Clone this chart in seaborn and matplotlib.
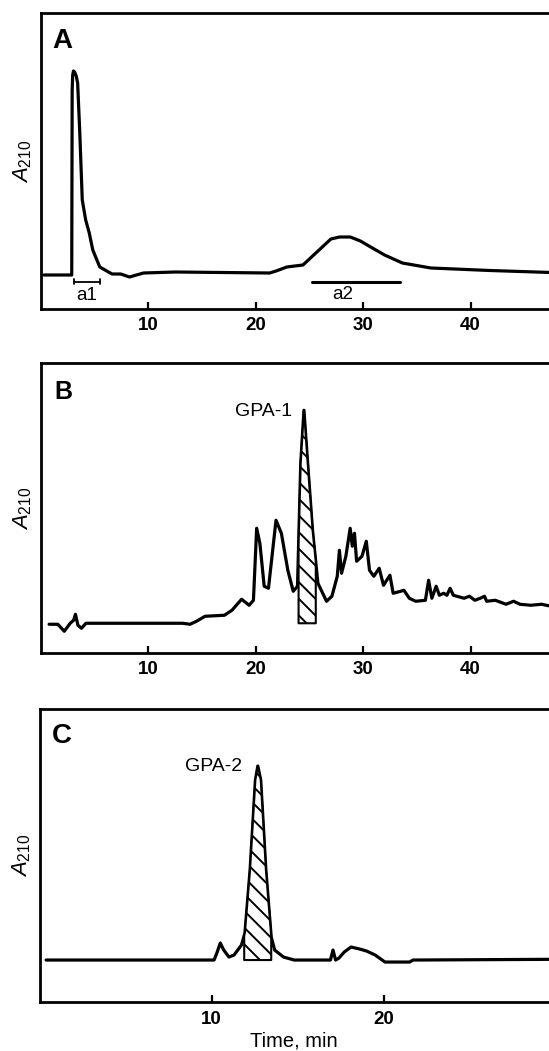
import numpy as np
import pandas as pd
import seaborn as sns
import matplotlib.pyplot as plt

# chromatogram A (time in min, absorbance in arbitrary units)
time_a = [0.3, 2.88, 2.92, 2.97, 3.04, 3.15, 3.3, 3.43, 3.63, 3.86, 4.18, 4.51, 4.84, 5.49,
          6.63, 7.44, 8.25, 9.56, 12.5, 21.3, 21.9, 22.9, 24.4, 25.2, 26.2, 27.0,
          27.8, 28.8, 29.75, 30.7, 32.0, 33.65, 36.3, 41.8, 47.5]
abs_a = [0, 0, 185, 200, 204, 203, 199, 192, 142, 75, 55, 42, 25, 8,
         1, 1, -2, 2, 3, 2, 4, 8, 10, 18, 28, 36,
         38, 38, 34, 28, 20, 12, 7, 4.5, 2.5]

# chromatogram B
time_b = [0.79, 1.6, 2.2, 2.75, 3.07, 3.24, 3.47, 3.8, 4.22, 13.2, 13.9, 14.5, 15.3,
          17.1, 17.8, 18.7, 19.4, 19.8, 20.1, 20.4, 20.8, 21.2, 21.9, 22.4, 23.0,
          23.5, 23.9, 24.2, 24.5, 24.8, 25.3, 25.8, 26.6, 27.1, 27.6, 27.8, 28.0,
          28.4, 28.8, 29.0, 29.2, 29.4, 29.9, 30.3, 30.6, 31.0, 31.5, 31.9, 32.5,
          32.8, 33.5, 33.8, 34.3, 34.9, 35.8, 36.1, 36.4, 36.8, 37.1, 37.5, 37.8,
          38.1, 38.4, 39.4, 39.9, 40.4, 40.9, 41.3, 41.5, 42.3, 43.3, 44.0, 44.6,
          45.6, 46.6, 47.5]
abs_b = [-1, -1, -8, 0, 3, 9, -2, -5, 0, 0, -1, 2, 7,
         8, 13, 24, 18, 23, 95, 80, 37, 35, 103, 90, 53,
         32, 37, 160, 213, 167, 93, 40, 22, 27, 47, 73, 50,
         67, 95, 77, 90, 62, 67, 82, 53, 47, 55, 38, 48,
         30, 32, 33, 25, 22, 23, 43, 25, 37, 28, 30, 28,
         35, 28, 25, 27, 23, 25, 27, 22, 23, 19, 22, 19,
         18, 19, 17]

# chromatogram C
time_c = [0.38, 10.14, 10.3, 10.5, 10.7, 11.0, 11.3, 11.73, 11.93, 12.23, 12.54,
          12.68, 12.85, 13.15, 13.46, 13.66, 14.17, 14.8, 16.9, 17.05, 17.2, 17.4,
          17.7, 18.1, 18.6, 19.0, 19.5, 20.07, 21.5, 21.7, 29.6]
abs_c = [0, 0, 7, 17, 10, 3, 5, 15, 27, 90, 180,
         194, 180, 90, 23, 10, 3, 0, 0, 10, 0, 2,
         8, 13, 11, 9, 5, -2, -2, 0, 0.7]

# collected fractions
frac_a1 = (3.11, 5.49)
frac_a2 = (25.2, 33.4)
gpa1_cut = (24.0, 25.6)
gpa2_cut = (11.89, 13.46)

sns.set_theme(style="white")
plt.rcParams['font.family'] = ['Liberation Sans', 'DejaVu Sans']
plt.rcParams['text.color'] = 'black'
plt.rcParams['axes.labelcolor'] = 'black'
plt.rcParams['mathtext.fontset'] = 'custom'
plt.rcParams['mathtext.rm'] = 'Liberation Sans'
plt.rcParams['mathtext.it'] = 'Liberation Sans:italic'
plt.rcParams['hatch.linewidth'] = 1.4

fig = plt.figure(figsize=(5.49, 10.51), dpi=100)
axA = fig.add_axes([0.0743, 0.706, 0.9257, 0.2816])
axB = fig.add_axes([0.0740, 0.379, 0.9260, 0.2754])
axC = fig.add_axes([0.0721, 0.0463, 0.9279, 0.2788])


def style_axis(ax, xlim, ylim, ticks, letter, lx, ly, lsize):
    ax.set_xlim(*xlim)
    ax.set_ylim(*ylim)
    ax.set_xticks(ticks)
    ax.set_yticks([])
    ax.tick_params(axis='x', direction='in', length=5, width=1.6,
                   labelsize=13.5, pad=6, colors='black', bottom=True)
    for lab in ax.get_xticklabels():
        lab.set_fontweight('bold')
    for side in ['left', 'top', 'bottom']:
        ax.spines[side].set_linewidth(2.0)
        ax.spines[side].set_color('black')
    ax.spines['right'].set_visible(False)
    ax.set_ylabel(r'$A_{\rm 210}$', fontsize=16)
    ax.yaxis.set_label_coords(-0.013, 0.5)
    ax.text(lx, ly, letter, transform=ax.transAxes, ha='left', va='top',
            fontsize=lsize, fontweight='bold', color='black')


def add_cut(ax, t, a, cut):
    t = np.asarray(t)
    inside = (t > cut[0]) & (t < cut[1])
    xs = np.concatenate([[cut[0]], t[inside], [cut[1]]])
    ys = np.interp(xs, t, a)
    ax.fill_between(xs, 0, ys, facecolor='white', edgecolor='black',
                    hatch='\\\\', linewidth=1.5, zorder=3)


# panel A
sns.lineplot(x=time_a, y=abs_a, ax=axA, color='black', linewidth=2.3,
             estimator=None, sort=False)
style_axis(axA, (0, 47.3), (-34, 262), [10, 20, 30, 40], 'A', 0.022, 0.95, 20)
axA.plot(frac_a1, [-6.7, -6.7], color='black', linewidth=1.3)
for xe in frac_a1:
    axA.plot([xe, xe], [-4, -9.5], color='black', linewidth=1.3)
axA.plot(frac_a2, [-6.7, -6.7], color='black', linewidth=2.2)
axA.text(sum(frac_a1) / 2, -21, 'a1', ha='center', va='center', fontsize=13.5)
axA.text(28.1, -20, 'a2', ha='center', va='center', fontsize=13.5)

# panel B
add_cut(axB, time_b, abs_b, gpa1_cut)
sns.lineplot(x=time_b, y=abs_b, ax=axB, color='black', linewidth=2.3,
             estimator=None, sort=False)
style_axis(axB, (0, 47.3), (-29.4, 260), [10, 20, 30, 40], 'B', 0.028, 0.942, 18)
axB.text(23.4, 212, 'GPA-1', ha='right', va='center', fontsize=14)

# panel C
add_cut(axC, time_c, abs_c, gpa2_cut)
sns.lineplot(x=time_c, y=abs_c, ax=axC, color='black', linewidth=2.3,
             estimator=None, sort=False)
style_axis(axC, (0, 29.6), (-42.3, 250.7), [10, 20], 'C', 0.024, 0.953, 20)
axC.text(11.77, 194, 'GPA-2', ha='right', va='center', fontsize=14)
axC.set_xlabel('Time, min', fontsize=14.5, labelpad=3)

fig.savefig('out.png', dpi=100)
